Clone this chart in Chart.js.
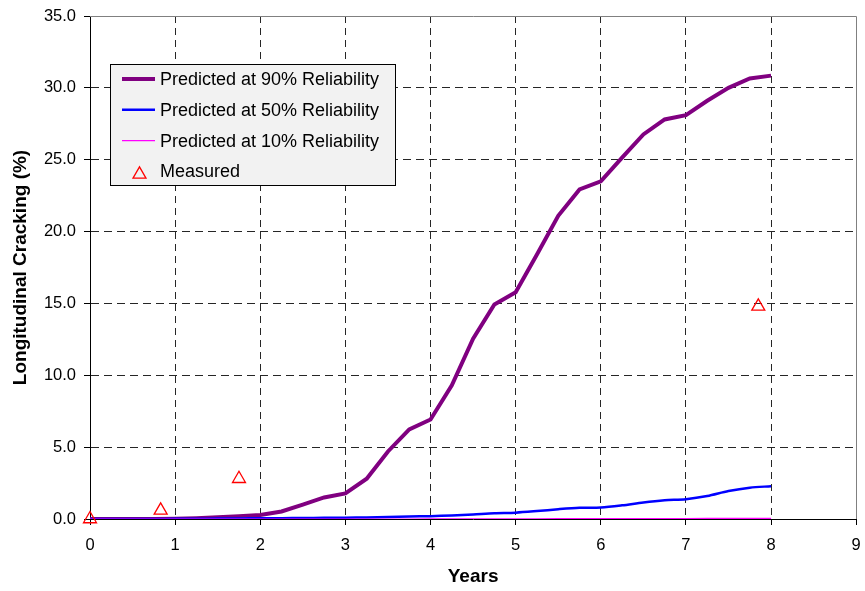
<!DOCTYPE html>
<html>
<head>
<meta charset="utf-8">
<script src="https://cdn.jsdelivr.net/npm/chart.js@4/dist/chart.umd.min.js"></script>
<style>
html,body{margin:0;padding:0;background:#fff;}
#wrap{position:relative;width:865px;height:591px;}
</style>
</head>
<body>
<div id="wrap"><canvas id="c" width="865" height="591"></canvas></div>
<script>
// ---- data ----
const years = [0, 0.25, 0.5, 0.75, 1, 1.25, 1.5, 1.75, 2, 2.25, 2.5, 2.75, 3, 3.25, 3.5, 3.75, 4, 4.25, 4.5, 4.75, 5, 5.25, 5.5, 5.75, 6, 6.25, 6.5, 6.75, 7, 7.25, 7.5, 7.75, 8];
const pred90 = [0, 0, 0, 0, 0.02, 0.06, 0.12, 0.2, 0.28, 0.52, 1.0, 1.5, 1.78, 2.8, 4.7, 6.23, 6.92, 9.3, 12.55, 14.93, 15.78, 18.4, 21.1, 22.93, 23.5, 25.15, 26.76, 27.8, 28.1, 29.1, 30.0, 30.65, 30.85];
const pred50 = [0, 0, 0, 0, 0.01, 0.02, 0.03, 0.04, 0.05, 0.06, 0.07, 0.08, 0.09, 0.11, 0.14, 0.18, 0.2, 0.25, 0.32, 0.4, 0.44, 0.55, 0.68, 0.78, 0.8, 0.95, 1.15, 1.3, 1.38, 1.6, 1.95, 2.18, 2.28];
const pred10 = [0, 0, 0, 0, 0, 0, 0, 0, 0, 0, 0, 0, 0, 0, 0, 0, 0.01, 0.01, 0.01, 0.01, 0.01, 0.01, 0.02, 0.02, 0.02, 0.02, 0.03, 0.03, 0.03, 0.04, 0.04, 0.05, 0.05];
const measuredYears = [0, 0.83, 1.75, 7.85];
const measuredValues = [0, 0.6, 2.8, 14.8];
const seriesLabels = ['Predicted at 90% Reliability', 'Predicted at 50% Reliability', 'Predicted at 10% Reliability', 'Measured'];
const xTitle = 'Years';
const yTitle = 'Longitudinal Cracking (%)';

const toXY = (xs, ys) => xs.map((x, i) => ({x: x, y: ys[i]}));
const FONT = "'Liberation Sans', Arial, sans-serif";

// legend + frame plugin
const framePlugin = {
  id: 'frame',
  afterDraw(chart) {
    const {ctx, chartArea: a} = chart;
    ctx.save();
    ctx.strokeStyle = '#808080';
    ctx.lineWidth = 1;
    ctx.beginPath();
    ctx.moveTo(a.left, Math.round(a.top) + 0.5);
    ctx.lineTo(Math.round(a.right) + 0.5, Math.round(a.top) + 0.5);
    ctx.lineTo(Math.round(a.right) + 0.5, a.bottom);
    ctx.stroke();
    ctx.restore();

    // legend
    const bx = 110.5, by = 64.5, bw = 285, bh = 121;
    ctx.save();
    ctx.fillStyle = '#f2f2f2';
    ctx.fillRect(bx, by, bw, bh);
    ctx.strokeStyle = '#000';
    ctx.lineWidth = 1;
    ctx.strokeRect(bx, by, bw, bh);
    ctx.font = '18px ' + FONT;
    ctx.textBaseline = 'middle';
    chart.data.datasets.forEach((ds, i) => {
      const y = 79 + i * 30.8;
      if (ds.showLine) {
        ctx.strokeStyle = ds.borderColor;
        ctx.lineWidth = ds.borderWidth;
        ctx.beginPath();
        ctx.moveTo(122, y);
        ctx.lineTo(155, y);
        ctx.stroke();
      } else {
        ctx.strokeStyle = ds.borderColor;
        ctx.lineWidth = 1.3;
        ctx.beginPath();
        const r = 7.5, cx = 139.5, cy = y + 3;
        ctx.moveTo(cx, cy - r);
        ctx.lineTo(cx + r * Math.sqrt(3) / 2, cy + r / 2);
        ctx.lineTo(cx - r * Math.sqrt(3) / 2, cy + r / 2);
        ctx.closePath();
        ctx.stroke();
      }
      ctx.fillStyle = '#000';
      ctx.fillText(ds.label, 160, y + 1);
    });
    ctx.restore();
  }
};

new Chart(document.getElementById('c'), {
  type: 'scatter',
  data: {
    datasets: [
      {label: seriesLabels[0], data: toXY(years, pred90), showLine: true, borderColor: '#800080', backgroundColor: '#800080', borderWidth: 4, pointRadius: 0, order: 3},
      {label: seriesLabels[1], data: toXY(years, pred50), showLine: true, borderColor: '#0000ff', backgroundColor: '#0000ff', borderWidth: 2.5, pointRadius: 0, tension: 0.3, order: 2},
      {label: seriesLabels[2], data: toXY(years, pred10), showLine: true, borderColor: '#ff00ff', backgroundColor: '#ff00ff', borderWidth: 1.2, pointRadius: 0, order: 1},
      {label: seriesLabels[3], data: toXY(measuredYears, measuredValues), showLine: false, borderColor: '#ff0000', backgroundColor: 'rgba(0,0,0,0)', pointStyle: 'triangle', pointRadius: 7.5, pointBorderWidth: 1.3, clip: false, order: 0}
    ]
  },
  options: {
    responsive: false,
    animation: false,
    devicePixelRatio: 1,
    layout: {padding: {left: 0, top: 16, right: 7, bottom: 0}},
    plugins: {legend: {display: false}, tooltip: {enabled: false}},
    scales: {
      x: {
        type: 'linear', min: 0, max: 9,
        afterFit: s => { s.height = 72; s.paddingLeft = 0; s.paddingRight = 0; },
        afterUpdate: s => { s.paddingLeft = 0; s.paddingRight = 0; },
        ticks: {stepSize: 1, color: '#000', font: {family: FONT, size: 16.5}, padding: 11, maxRotation: 0},
        grid: {
          color: ctx => (ctx.tick && (ctx.tick.value === 0 || ctx.tick.value === 9)) ? 'rgba(0,0,0,0)' : 'rgba(0,0,0,0.85)',
          tickColor: '#000', tickLength: 6, lineWidth: 1, tickBorderDash: [0, 0]
        },
        border: {display: true, color: '#000', width: 1, dash: [7, 5]},
        title: {display: true, text: xTitle, color: '#000', font: {family: FONT, size: 19, weight: 'bold'}, padding: {top: 0, bottom: 3}}
      },
      y: {
        min: 0, max: 35,
        afterFit: s => { s.width = 90; s.paddingTop = 0; s.paddingBottom = 0; s.paddingLeft = 0; s.paddingRight = 0; },
        afterUpdate: s => { s.paddingTop = 0; s.paddingBottom = 0; s.paddingLeft = 0; s.paddingRight = 0; },
        ticks: {stepSize: 5, color: '#000', font: {family: FONT, size: 16.5}, padding: 8, callback: v => Number(v).toFixed(1)},
        grid: {
          color: ctx => (ctx.tick && (ctx.tick.value === 0 || ctx.tick.value === 35)) ? 'rgba(0,0,0,0)' : 'rgba(0,0,0,0.85)',
          tickColor: '#000', tickLength: 6, lineWidth: 1, tickBorderDash: [0, 0]
        },
        border: {display: true, color: '#000', width: 1, dash: [8, 5]},
        title: {display: true, text: yTitle, color: '#000', font: {family: FONT, size: 19, weight: 'bold'}, padding: {top: 9, bottom: 0}}
      }
    }
  },
  plugins: [framePlugin]
});
</script>
</body>
</html>
